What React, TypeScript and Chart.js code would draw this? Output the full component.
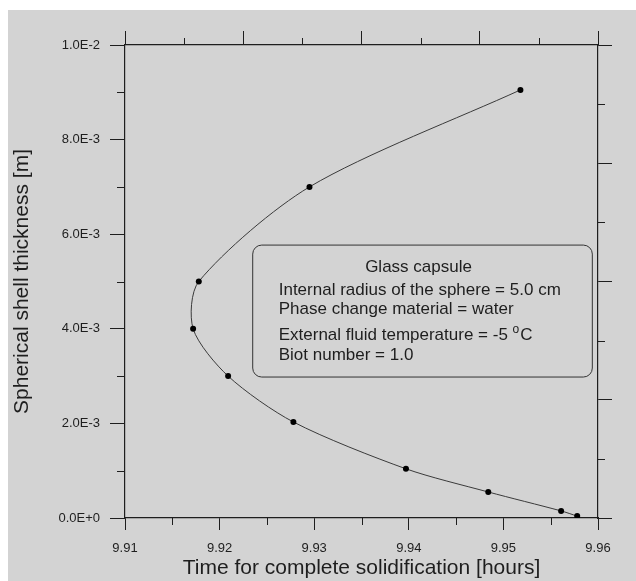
import React, { useEffect, useRef } from "react";
import { Chart, registerables } from "chart.js";

Chart.register(...registerables);

// ---- data ----
const timeHours = [9.9518, 9.9295, 9.9178, 9.9172, 9.9209, 9.9278, 9.9397, 9.9484, 9.9561, 9.9578];
const shellThickness = [9.05e-3, 7.0e-3, 5.0e-3, 4.0e-3, 3.0e-3, 2.03e-3, 1.04e-3, 0.55e-3, 0.15e-3, 0.04e-3];

const xTickValues = [9.91, 9.92, 9.93, 9.94, 9.95, 9.96];
const xTickLabels = ["9.91", "9.92", "9.93", "9.94", "9.95", "9.96"];
const xMinorValues = [9.915, 9.925, 9.935, 9.945, 9.955];

const yTickValues = [0, 0.002, 0.004, 0.006, 0.008, 0.01];
const yTickLabels = ["0.0E+0", "2.0E-3", "4.0E-3", "6.0E-3", "8.0E-3", "1.0E-2"];
const yMinorValues = [0.001, 0.003, 0.005, 0.007, 0.009];

// secondary (top / right) frame axes
const frameMajor = [0, 2, 4, 6, 8];
const frameMinor = [1, 3, 5, 7];

const xTitle = "Time for complete solidification [hours]";
const yTitle = "Spherical shell thickness [m]";

const noteTitle = "Glass capsule";
const noteLines = [
  "Internal radius of the sphere = 5.0 cm",
  "Phase change material = water",
  "External fluid temperature = -5 ",
  "Biot number = 1.0",
];
// note box corners in data units
const noteX = [9.9235, 9.9594];
const noteY = [5.77e-3, 2.98e-3];

const INK = "#1e1e1e";
const FONT = "'Liberation Sans', Arial, sans-serif";

const framePlugin = {
  id: "frameExtras",
  afterDraw(chart: any) {
    const ctx = chart.ctx as CanvasRenderingContext2D;
    const { x, y, x2, y2 } = chart.scales;
    ctx.save();
    ctx.strokeStyle = INK;
    ctx.lineWidth = 1;
    ctx.beginPath();
    for (const v of xMinorValues) {
      const px = Math.round(x.getPixelForValue(v)) + 0.5;
      ctx.moveTo(px, x.top);
      ctx.lineTo(px, x.top + 7);
    }
    for (const v of yMinorValues) {
      const py = Math.round(y.getPixelForValue(v)) + 0.5;
      ctx.moveTo(y.right, py);
      ctx.lineTo(y.right - 8, py);
    }
    for (const v of frameMinor) {
      const px = Math.round(x2.getPixelForValue(v)) + 0.5;
      ctx.moveTo(px, x2.bottom);
      ctx.lineTo(px, x2.bottom - 7);
      const py = Math.round(y2.getPixelForValue(v)) + 0.5;
      ctx.moveTo(y2.left, py);
      ctx.lineTo(y2.left + 7, py);
    }
    ctx.stroke();

    // note box
    const bx0 = x.getPixelForValue(noteX[0]);
    const bx1 = x.getPixelForValue(noteX[1]);
    const by0 = y.getPixelForValue(noteY[0]);
    const by1 = y.getPixelForValue(noteY[1]);
    ctx.beginPath();
    ctx.lineWidth = 1;
    ctx.strokeStyle = "#333";
    (ctx as any).roundRect(bx0, by0, bx1 - bx0, by1 - by0, 9);
    ctx.stroke();

    ctx.fillStyle = INK;
    ctx.font = `17px ${FONT}`;
    ctx.textBaseline = "middle";
    ctx.textAlign = "center";
    ctx.fillText(noteTitle, (bx0 + bx1) / 2 - 4, by0 + 22);
    ctx.textAlign = "left";
    const offs = [45, 64, 90, 110];
    const lx = bx0 + 26;
    noteLines.forEach((t, i) => {
      ctx.font = `17px ${FONT}`;
      ctx.fillText(t, lx, by0 + offs[i]);
      if (i === 2) {
        const w = ctx.measureText(t).width;
        ctx.font = `12px ${FONT}`;
        ctx.fillText("o", lx + w, by0 + offs[i] - 5);
        const w2 = ctx.measureText("o").width;
        ctx.font = `17px ${FONT}`;
        ctx.fillText("C", lx + w + w2 + 1, by0 + offs[i]);
      }
    });
    ctx.restore();
  },
};

export default function App() {
  const ref = useRef<HTMLCanvasElement>(null);
  useEffect(() => {
    if (!ref.current) return;
    const chart = new Chart(ref.current, {
      type: "scatter",
      data: {
        datasets: [
          {
            data: timeHours.map((t, i) => ({ x: t, y: shellThickness[i] })),
            showLine: true,
            tension: 0.28,
            borderColor: "#3a3a3a",
            borderWidth: 1,
            pointRadius: 3,
            pointBackgroundColor: "#000",
            pointBorderColor: "#000",
            pointBorderWidth: 0,
          },
        ],
      },
      options: {
        responsive: false,
        animation: false,
        events: [],
        layout: { padding: 0 },
        plugins: { legend: { display: false }, tooltip: { enabled: false } },
        scales: {
          x: {
            type: "linear",
            position: "bottom",
            min: 9.91,
            max: 9.96,
            afterBuildTicks: (s: any) => {
              s.ticks = xTickValues.map((v) => ({ value: v }));
            },
            afterFit: (s: any) => {
              s.height = 63;
            },
            ticks: {
              callback: (_v: any, i: number) => xTickLabels[i],
              font: { family: FONT, size: 13 },
              color: INK,
              padding: 11,
              maxRotation: 0,
            },
            grid: { drawOnChartArea: false, tickLength: 12, tickColor: INK, tickWidth: 1 },
            border: { display: true, color: INK, width: 1.2 },
            title: {
              display: true,
              text: xTitle,
              font: { family: FONT, size: 21 },
              color: INK,
              padding: { top: 0, bottom: 0 },
            },
          },
          y: {
            type: "linear",
            position: "left",
            min: 0,
            max: 0.01,
            afterBuildTicks: (s: any) => {
              s.ticks = yTickValues.map((v) => ({ value: v }));
            },
            afterFit: (s: any) => {
              s.width = 117;
            },
            ticks: {
              callback: (_v: any, i: number) => yTickLabels[i],
              font: { family: FONT, size: 13 },
              color: INK,
              padding: 10,
            },
            grid: { drawOnChartArea: false, tickLength: 15, tickColor: INK, tickWidth: 1 },
            border: { display: true, color: INK, width: 1.2 },
            title: {
              display: true,
              text: yTitle,
              font: { family: FONT, size: 21 },
              color: INK,
              padding: { top: 2, bottom: 0 },
            },
          },
          x2: {
            type: "linear",
            position: "top",
            min: 0,
            max: 8,
            afterBuildTicks: (s: any) => {
              s.ticks = frameMajor.map((v) => ({ value: v }));
            },
            afterFit: (s: any) => {
              s.height = 35;
            },
            ticks: { display: false },
            grid: { drawOnChartArea: false, tickLength: 14, tickColor: INK, tickWidth: 1 },
            border: { display: true, color: INK, width: 1.2 },
          },
          y2: {
            type: "linear",
            position: "right",
            min: 0,
            max: 8,
            afterBuildTicks: (s: any) => {
              s.ticks = frameMajor.map((v) => ({ value: v }));
            },
            afterFit: (s: any) => {
              s.width = 38;
            },
            ticks: { display: false },
            grid: { drawOnChartArea: false, tickLength: 14, tickColor: INK, tickWidth: 1 },
            border: { display: true, color: INK, width: 1.2 },
          },
        },
      } as any,
      plugins: [framePlugin],
    });
    return () => chart.destroy();
  }, []);

  return (
    <div
      style={{
        position: "fixed",
        left: 8,
        top: 10,
        width: 628,
        height: 571,
        background: "#d3d3d3",
      }}
    >
      <canvas ref={ref} width={628} height={571} style={{ display: "block" }} />
    </div>
  );
}
